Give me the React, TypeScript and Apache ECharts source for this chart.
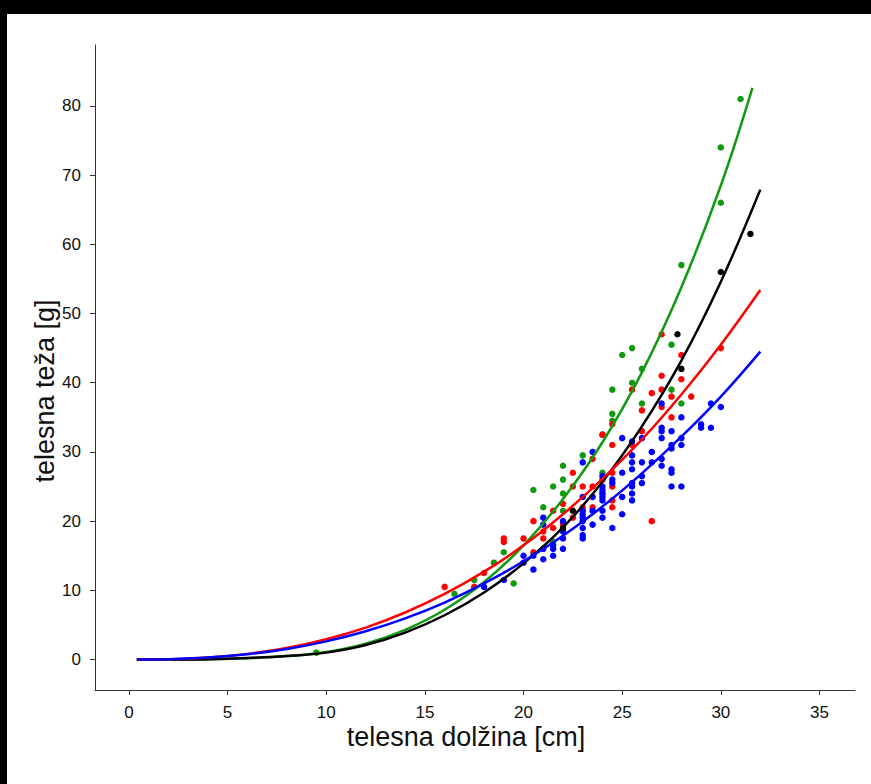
import React, { useEffect, useRef } from "react";
import * as echarts from "echarts";

// ---- data ----
const xTicks = [0, 5, 10, 15, 20, 25, 30, 35];
const yTicks = [0, 10, 20, 30, 40, 50, 60, 70, 80];

const greenPoints: number[][] = [
  [9.5, 1], [16.5, 9.5], [17.5, 11.5], [18.5, 14], [19, 15.5], [19.5, 11], [20.5, 24.5],
  [21, 22], [21.5, 25], [21.5, 17], [22, 28], [22, 26], [22, 24], [22, 21.5], [23, 29.5],
  [24, 32.5], [24, 27], [24, 24], [24.5, 39], [24.5, 35.5], [24.5, 34.5], [25, 44],
  [25.5, 45], [25.5, 40], [26, 42], [26, 37], [27.5, 45.5], [27.5, 39], [28, 37],
  [28, 57], [30, 74], [30, 66], [31, 81],
];
const redPoints: number[][] = [
  [16, 10.5], [17.5, 10.5], [18, 12.5], [19, 17.5], [19, 17], [20, 17.5], [20.5, 15.5],
  [20.5, 20], [21, 18.5], [21, 17.5], [21.5, 19], [21.5, 21.5], [22, 19.5], [22, 22.5],
  [22.5, 20.5], [22.5, 25], [22.5, 27], [23, 25], [23, 22], [23.5, 29], [23.5, 25],
  [23.5, 22], [24, 26], [24, 32.5], [24.5, 27], [24.5, 25], [24.5, 23], [24.5, 22],
  [24.5, 34], [24.5, 31], [25.5, 31], [25.5, 39], [26, 36], [26, 33], [26.5, 20],
  [26.5, 38.5], [27, 47], [27, 41], [27, 39], [27, 36.5], [27.5, 38], [27.5, 35],
  [28, 44], [28, 40.5], [28.5, 38], [30, 45],
];
const bluePoints: number[][] = [
  [18, 10.5], [19, 11.5], [20, 15], [20, 14], [20.5, 13], [20.5, 15], [21, 20.5],
  [21, 19.5], [21, 16], [21, 14.5], [21.5, 16.5], [21.5, 16], [21.5, 15], [22, 20],
  [22, 18.5], [22, 17.5], [22, 16], [23, 28.5], [23, 23.5], [23, 21.5], [23, 21],
  [23, 20.5], [23, 20], [23, 19], [23, 18], [23, 17.5], [23.5, 30], [23.5, 23.5],
  [23.5, 21.5], [23.5, 19.5], [24, 26.5], [24, 25], [24, 24.5], [24, 24], [24, 23.5],
  [24, 23], [24, 21.5], [24, 20.5], [24.5, 25.5], [24.5, 26], [24.5, 19], [25, 32],
  [25, 27], [25, 23.5], [25, 21], [25.5, 31.5], [25.5, 29.5], [25.5, 28.5], [25.5, 27.5],
  [25.5, 25.5], [25.5, 25], [25.5, 24], [25.5, 23], [26, 32], [26, 28.5], [26, 26.5],
  [26, 25.5], [26.5, 28.5], [26.5, 30], [27, 37], [27, 33.5], [27, 33], [27, 32],
  [27, 29], [27, 28], [27.5, 33], [27.5, 31], [27.5, 30.5], [27.5, 27.5], [27.5, 27],
  [27.5, 25], [28, 35], [28, 32], [28, 31], [28, 25], [29, 34], [29, 33.5], [29.5, 37],
  [29.5, 33.5], [30, 36.5],
];
const blackPoints: number[][] = [
  [22, 19], [22.5, 21.5], [27.8, 47], [28, 42], [30, 56], [31.5, 61.5],
];

const curveL = [0.4, 2, 4, 6, 8, 10, 12, 14, 16, 18, 20, 22, 24, 26, 28, 30, 32];
const greenCurveL = [0.4, 2, 4, 6, 8, 10, 12, 14, 16, 18, 20, 22, 24, 26, 28, 30, 31.6];
const greenCurveW = [0, 0.01, 0.05, 0.2, 0.5, 1.1, 2.3, 4.3, 7.2, 11.2, 16.5, 23.2, 31.4, 41.5, 53.8, 68.5, 82.6];
const blackCurveW = [0, 0.006, 0.06, 0.22, 0.5, 1.0, 2.1, 3.9, 6.4, 9.7, 13.9, 19.1, 25.7, 33.7, 43.2, 54.6, 67.9];
const redCurveW = [0.001, 0.05, 0.3, 0.82, 1.68, 2.94, 4.62, 6.8, 9.48, 12.7, 16.5, 21.0, 26.1, 31.8, 38.3, 45.5, 53.4];
const blueCurveW = [0.001, 0.05, 0.28, 0.76, 1.53, 2.63, 4.09, 5.96, 8.24, 11.0, 14.2, 17.9, 22.1, 26.9, 32.2, 38.0, 44.5];

const GREEN = "#109a10";
const RED = "#ff0000";
const BLUE = "#0000ff";
const BLACK = "#000000";
const FONT = "Liberation Sans, Arial, sans-serif";

function zip(xs: number[], ys: number[]) {
  return xs.map((x, i) => [x, ys[i]]);
}

export default function App() {
  const ref = useRef<HTMLDivElement>(null);
  useEffect(() => {
    if (!ref.current) return;
    const chart = echarts.init(ref.current, undefined, { renderer: "svg" });
    const scatter = (data: number[][], color: string) => ({
      type: "scatter",
      data,
      symbol: "circle",
      symbolSize: 6.5,
      itemStyle: { color, opacity: 1 },
      silent: true,
      z: 2,
    });
    const curve = (data: number[][], color: string) => ({
      type: "line",
      data,
      smooth: 0.4,
      showSymbol: false,
      lineStyle: { color, width: 2.5 },
      silent: true,
      z: 3,
    });
    chart.setOption({
      animation: false,
      backgroundColor: "#ffffff",
      grid: { left: 95, right: 16, top: 45, bottom: 94 },
      xAxis: {
        type: "value",
        min: -1.72,
        max: 36.8,
        splitLine: { show: false },
        axisLine: { show: true, onZero: false, lineStyle: { color: "#333333", width: 1 } },
        axisTick: { show: true, length: 5, lineStyle: { color: "#333333" }, customValues: xTicks },
        axisLabel: { color: "#111111", fontSize: 17, fontFamily: FONT, margin: 14, customValues: xTicks },
      },
      yAxis: {
        type: "value",
        min: -4.4,
        max: 88.8,
        splitLine: { show: false },
        axisLine: { show: true, onZero: false, lineStyle: { color: "#333333", width: 1 } },
        axisTick: { show: true, length: 5, lineStyle: { color: "#333333" }, customValues: yTicks },
        axisLabel: { color: "#111111", fontSize: 17, fontFamily: FONT, margin: 14, customValues: yTicks },
      },
      graphic: [
        { type: "rect", shape: { x: 0, y: 0, width: 871, height: 14 }, style: { fill: "#000" }, silent: true },
        { type: "rect", shape: { x: 0, y: 0, width: 7, height: 784 }, style: { fill: "#000" }, silent: true },
        {
          type: "text",
          x: 466,
          y: 737,
          style: { text: "telesna dolžina [cm]", fontSize: 27, fontFamily: FONT, fill: "#111", align: "center", verticalAlign: "middle" },
        },
        {
          type: "text",
          x: 45,
          y: 391,
          rotation: Math.PI / 2,
          style: { text: "telesna teža [g]", fontSize: 27, fontFamily: FONT, fill: "#111", align: "center", verticalAlign: "middle" },
        },
      ],
      series: [
        scatter(greenPoints, GREEN),
        scatter(redPoints, RED),
        scatter(bluePoints, BLUE),
        scatter(blackPoints, BLACK),
        curve(zip(greenCurveL, greenCurveW), GREEN),
        curve(zip(curveL, blackCurveW), BLACK),
        curve(zip(curveL, redCurveW), RED),
        curve(zip(curveL, blueCurveW), BLUE),
      ],
    });
    return () => chart.dispose();
  }, []);
  return (
    <div style={{ position: "fixed", left: 0, top: 0, width: 871, height: 784, background: "#fff" }}>
      <div ref={ref} style={{ width: 871, height: 784 }} />
    </div>
  );
}
